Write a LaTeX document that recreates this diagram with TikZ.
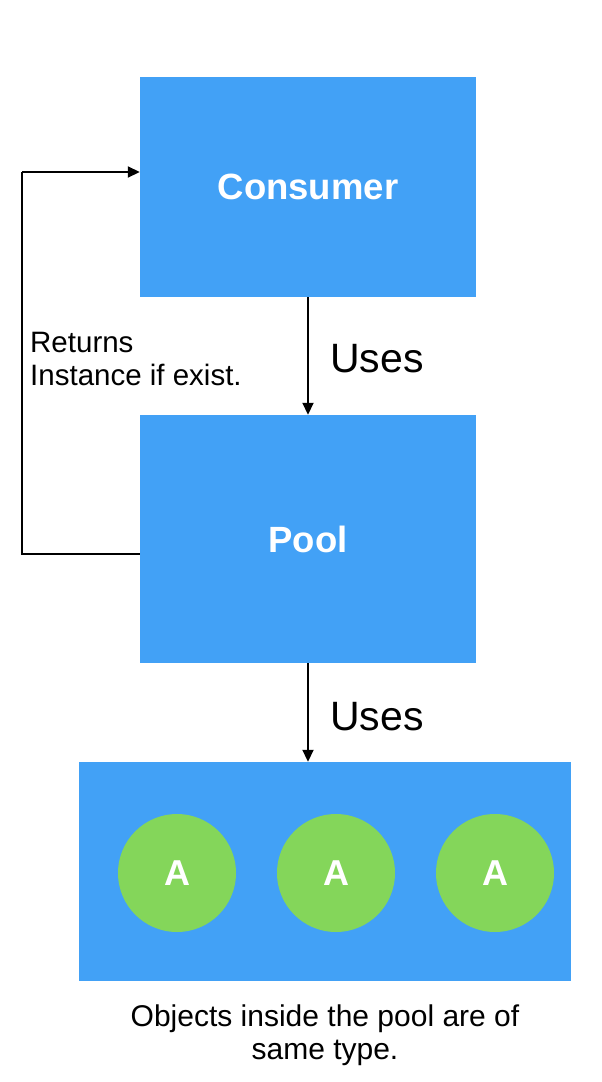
\documentclass[tikz,border=0pt]{standalone}
\usepackage{fontspec}
\setmainfont{Liberation Sans}
\usetikzlibrary{arrows.meta}
\definecolor{boxblue}{RGB}{66,161,246}
\definecolor{objgreen}{RGB}{132,214,90}
\begin{document}
\begin{tikzpicture}[x=1pt,y=-1pt,
  bluebox/.style={fill=boxblue,draw=none,inner sep=0pt},
  boxtext/.style={text=white,font=\fontsize{36.5}{42}\selectfont\bfseries},
  obj/.style={circle,fill=objgreen,draw=none,minimum size=118pt,inner sep=0pt,text=white,font=\fontsize{36}{42}\selectfont\bfseries},
  conn/.style={line width=1.8pt,-{Triangle[width=11pt,length=12pt]}},
  plain/.style={line width=1.8pt},
  lbl/.style={font=\fontsize{41}{48}\selectfont,inner sep=0pt}
]
\useasboundingbox (0,0) rectangle (602,1082);
\node[bluebox,boxtext,minimum width=336pt,minimum height=220pt] (consumer) at (308,187) {Consumer};
\node[bluebox,boxtext,minimum width=336pt,minimum height=248pt] (pool) at (308,539) {Pool};
\node[bluebox,minimum width=492pt,minimum height=219pt] (objs) at (325,871.5) {};
\node[obj] (a1) at (177,873) {A};
\node[obj] (a2) at (336,873) {A};
\node[obj] (a3) at (495,873) {A};
\draw[conn] (consumer.south -| 308,0) -- (pool.north -| 308,0);
\draw[conn] (pool.south -| 308,0) -- (objs.north -| 308,0);
\coordinate (lb) at (22,554);
\coordinate (lt) at (22,172);
\draw[plain] (pool.west |- lb) -- (lb) -- (lt);
\draw[conn] (lt) -- (consumer.west |- lt);
\node[lbl,anchor=base west] (u1) at (330,372) {Uses};
\node[lbl,anchor=base west] (u2) at (330,730) {Uses};
\node[anchor=base west,align=left,inner sep=0pt,font=\fontsize{29.5}{33}\selectfont] (ret) at (30,385) {Returns\\Instance if exist.};
\node[anchor=base,align=center,inner sep=0pt,font=\fontsize{30}{33}\selectfont] (note) at (325,1059) {Objects inside the pool are of\\same type.};
\end{tikzpicture}
\end{document}
